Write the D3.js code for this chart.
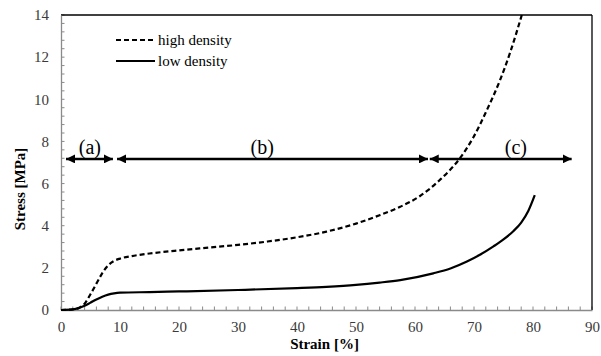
<!DOCTYPE html>
<html>
<head>
<meta charset="utf-8">
<script src="https://cdn.jsdelivr.net/npm/d3@7"></script>
<style>
  body { margin: 0; background: #fff; }
  svg { display: block; font-family: "Liberation Serif", "Times New Roman", serif; }
  svg text { font-family: "Liberation Serif", "Times New Roman", serif; }
</style>
</head>
<body>
<svg id="chart" width="601" height="356"></svg>
<script>
// strain [%], stress [MPa]
const highStrain = [0, 2, 3, 4, 5, 6, 7, 8, 9, 10, 12, 15, 20, 25, 30, 35, 40, 45, 50, 54, 57.5, 60.8, 64.2, 67.6, 69.9, 72.2, 74.4, 76.1, 78.1];
const highStress = [0, 0.03, 0.1, 0.3, 0.75, 1.25, 1.75, 2.12, 2.33, 2.44, 2.56, 2.68, 2.83, 2.96, 3.09, 3.25, 3.45, 3.72, 4.1, 4.5, 4.9, 5.4, 6.17, 7.2, 8.2, 9.5, 10.9, 12.2, 14];
const lowStrain = [0, 2, 3, 4, 5, 6, 7, 8, 9, 10, 15, 20, 30, 40, 45, 50, 54, 57.5, 63.1, 66, 68.8, 71, 73.3, 75, 76.7, 78, 79.2, 80.3];
const lowStress = [0, 0.03, 0.09, 0.2, 0.35, 0.5, 0.63, 0.73, 0.79, 0.82, 0.85, 0.88, 0.95, 1.04, 1.1, 1.19, 1.3, 1.42, 1.74, 1.97, 2.3, 2.62, 3.02, 3.35, 3.75, 4.15, 4.7, 5.45];

// regions (a), (b), (c): start, end strain and label position
const regionLabels = ["(a)", "(b)", "(c)"];
const regionStart = [0.85, 9.5, 62.5];
const regionEnd = [8.8, 62.2, 86.55];
const regionLabelX = [4.9, 34.1, 77.1];
const regionStress = 7.17;

const xTicks = [0, 10, 20, 30, 40, 50, 60, 70, 80, 90];
const yTicks = [0, 2, 4, 6, 8, 10, 12, 14];

const svg = d3.select("#chart");
const plotLeft = 61, plotRight = 592, plotTop = 15, plotBottom = 310;

const x = d3.scaleLinear().domain([0, 90]).range([plotLeft, plotRight]);
const y = d3.scaleLinear().domain([0, 14]).range([plotBottom, plotTop]);

// minor ticks
const minorX = d3.range(0, 90.01, 2);
const minorY = d3.range(0, 14.01, 0.4);
svg.append("g")
  .selectAll("line").data(minorX).enter().append("line")
  .attr("x1", d => x(d)).attr("x2", d => x(d))
  .attr("y1", plotBottom).attr("y2", plotBottom - 3.5)
  .attr("stroke", "#8a8a8a").attr("stroke-width", 1);
svg.append("g")
  .selectAll("line").data(minorY).enter().append("line")
  .attr("x1", plotLeft).attr("x2", plotLeft + 3.5)
  .attr("y1", d => y(d)).attr("y2", d => y(d))
  .attr("stroke", "#8a8a8a").attr("stroke-width", 1);

// frame: top and right black, axes grey
svg.append("line").attr("x1", plotLeft).attr("x2", plotRight).attr("y1", plotTop).attr("y2", plotTop)
  .attr("stroke", "#000").attr("stroke-width", 1.3);
svg.append("line").attr("x1", plotRight).attr("x2", plotRight).attr("y1", plotTop).attr("y2", plotBottom)
  .attr("stroke", "#000").attr("stroke-width", 1.3);

const xAxis = svg.append("g")
  .attr("transform", "translate(0," + plotBottom + ")")
  .call(d3.axisBottom(x).tickValues(xTicks).tickSize(0).tickPadding(16).tickSizeOuter(0));
const yAxis = svg.append("g")
  .attr("transform", "translate(" + plotLeft + ",0)")
  .call(d3.axisLeft(y).tickValues(yTicks).tickSize(0).tickPadding(12).tickSizeOuter(0));
[xAxis, yAxis].forEach(a => {
  a.attr("font-family", null).attr("font-size", 15);
  a.select(".domain").attr("stroke", "#8a8a8a").attr("stroke-width", 1.3);
  a.selectAll("text").attr("fill", "#3a3a3a")
    .style("font-family", "'Liberation Serif', 'Times New Roman', serif");
});
xAxis.selectAll("text").attr("dy", "0.4em");

// curves
const line = d3.line().x(d => x(d[0])).y(d => y(d[1])).curve(d3.curveMonotoneX);
const high = highStrain.map((s, i) => [s, highStress[i]]);
const low = lowStrain.map((s, i) => [s, lowStress[i]]);

svg.append("path").datum(low).attr("d", line)
  .attr("fill", "none").attr("stroke", "#000").attr("stroke-width", 2.2);
svg.append("path").datum(high).attr("d", line)
  .attr("fill", "none").attr("stroke", "#000").attr("stroke-width", 2.2)
  .attr("stroke-dasharray", "5,3");

// arrows
const defs = svg.append("defs");
defs.append("marker").attr("id", "head")
  .attr("viewBox", "0 0 10 10").attr("refX", 10).attr("refY", 5)
  .attr("markerWidth", 3.6).attr("markerHeight", 3.6).attr("markerUnits", "strokeWidth")
  .attr("orient", "auto-start-reverse")
  .append("path").attr("d", "M0,0 L10,5 L0,10 Z").attr("fill", "#000");

const ay = y(regionStress);
regionLabels.forEach((lab, i) => {
  svg.append("line")
    .attr("x1", x(regionStart[i])).attr("x2", x(regionEnd[i]))
    .attr("y1", ay).attr("y2", ay)
    .attr("stroke", "#000").attr("stroke-width", 2.5)
    .attr("marker-start", "url(#head)").attr("marker-end", "url(#head)");
  svg.append("text")
    .attr("x", x(regionLabelX[i])).attr("y", ay - 5)
    .attr("text-anchor", "middle").attr("font-size", 20).attr("fill", "#000")
    .text(lab);
});

// legend
const legend = svg.append("g");
legend.append("line").attr("x1", 116).attr("x2", 155).attr("y1", 40).attr("y2", 40)
  .attr("stroke", "#000").attr("stroke-width", 2).attr("stroke-dasharray", "5,3");
legend.append("text").attr("x", 158).attr("y", 45).attr("font-size", 15).text("high density");
legend.append("line").attr("x1", 116).attr("x2", 155).attr("y1", 61).attr("y2", 61)
  .attr("stroke", "#000").attr("stroke-width", 2);
legend.append("text").attr("x", 158).attr("y", 66).attr("font-size", 15).text("low density");

// axis titles
svg.append("text").attr("x", (plotLeft + plotRight) / 2 - 2).attr("y", 349)
  .attr("text-anchor", "middle").attr("font-size", 15).attr("font-weight", "bold")
  .text("Strain [%]");
svg.append("text").attr("transform", "translate(25,189) rotate(-90)")
  .attr("text-anchor", "middle").attr("font-size", 15).attr("font-weight", "bold")
  .text("Stress [MPa]");
</script>
</body>
</html>
